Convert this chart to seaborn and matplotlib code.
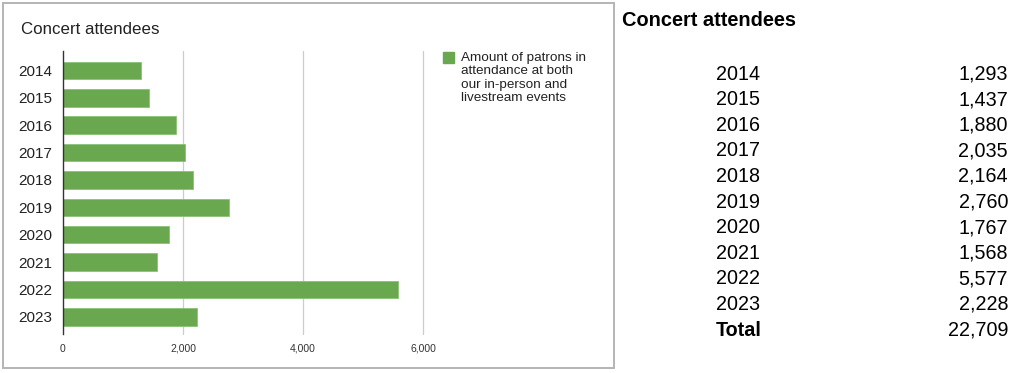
import matplotlib
matplotlib.use("Agg")
import matplotlib.pyplot as plt
import seaborn as sns
import pandas as pd
from matplotlib.patches import Rectangle, Patch

years = ["2014", "2015", "2016", "2017", "2018", "2019", "2020", "2021", "2022", "2023"]
attendees = [1293, 1437, 1880, 2035, 2164, 2760, 1767, 1568, 5577, 2228]
x_ticks = [0, 2000, 4000, 6000]
title = "Concert attendees"
legend_label = "Amount of patrons in\nattendance at both\nour in-person and\nlivestream events"

sns.set_theme(style="white")
plt.rcParams["font.family"] = ["Liberation Sans", "DejaVu Sans"]

W, H = 1024, 373
fig = plt.figure(figsize=(W / 100, H / 100), dpi=100)

def fx(px):
    return px / W

def fy(py):
    return 1 - py / H

# chart frame
fig.patches.append(Rectangle((fx(3), fy(368)), fx(611), (365) / H, transform=fig.transFigure,
                             fill=False, edgecolor="#b4b4b4", linewidth=1.4, zorder=0))

bar_color = "#6aa84f"
ax = fig.add_axes([fx(63), fy(334), fx(360), 283 / H])
df = pd.DataFrame({"year": years, "attendees": attendees})
sns.barplot(data=df, x="attendees", y="year", orient="h", color=bar_color,
            width=0.64, edgecolor="#8cc078", linewidth=0.6, saturation=1, ax=ax, zorder=3)

ax.set_xlim(0, 6000)
ax.set_ylim(9.63, -0.71)
ax.set_xticks(x_ticks)
ax.set_xticklabels([f"{v:,}" for v in x_ticks], fontsize=7.5, color="#333333")
ax.set_xlabel("")
ax.set_ylabel("")
ax.tick_params(axis="y", labelsize=11, labelcolor="#222222", length=0, pad=8)
ax.tick_params(axis="x", length=0, pad=7)
for s in ["top", "right", "bottom"]:
    ax.spines[s].set_visible(False)
ax.spines["left"].set_color("#333333")
ax.spines["left"].set_linewidth(1.0)
ax.spines["left"].set_zorder(5)
for v in x_ticks[1:]:
    ax.axvline(v, color="#cccccc", linewidth=0.9, zorder=1, clip_on=False)

fig.text(fx(21), fy(30), title, fontsize=12.2, color="#222222", va="center", ha="left")

leg = fig.legend(handles=[Patch(facecolor=bar_color, edgecolor=bar_color)], labels=[legend_label],
                 loc="upper left", bbox_to_anchor=(fx(443), fy(52)), frameon=False,
                 fontsize=9.7, handlelength=0.85, handleheight=0.85, handletextpad=0.45,
                 borderpad=0, borderaxespad=0)
for t in leg.get_texts():
    t.set_color("#222222")
    t.set_linespacing(1.16)
for col in leg._legend_handle_box.get_children():
    for row in col.get_children():
        row.align = "top"

# right-hand table
fig.text(fx(622), fy(20), title, fontsize=14.4, fontweight="bold", color="#000000", va="center", ha="left")
row0, step = 74, 25.6
for i, (y, v) in enumerate(zip(years, attendees)):
    yy = fy(row0 + i * step)
    fig.text(fx(716), yy, y, fontsize=14.2, va="center", ha="left", color="#000000")
    fig.text(fx(1008), yy, f"{v:,}", fontsize=14.2, va="center", ha="right", color="#000000")
yy = fy(row0 + len(years) * step)
fig.text(fx(716), yy, "Total", fontsize=14.2, fontweight="bold", va="center", ha="left", color="#000000")
fig.text(fx(1008), yy, f"{sum(attendees):,}", fontsize=14.2, va="center", ha="right", color="#000000")

fig.savefig("out.png", dpi=100, facecolor="white")
